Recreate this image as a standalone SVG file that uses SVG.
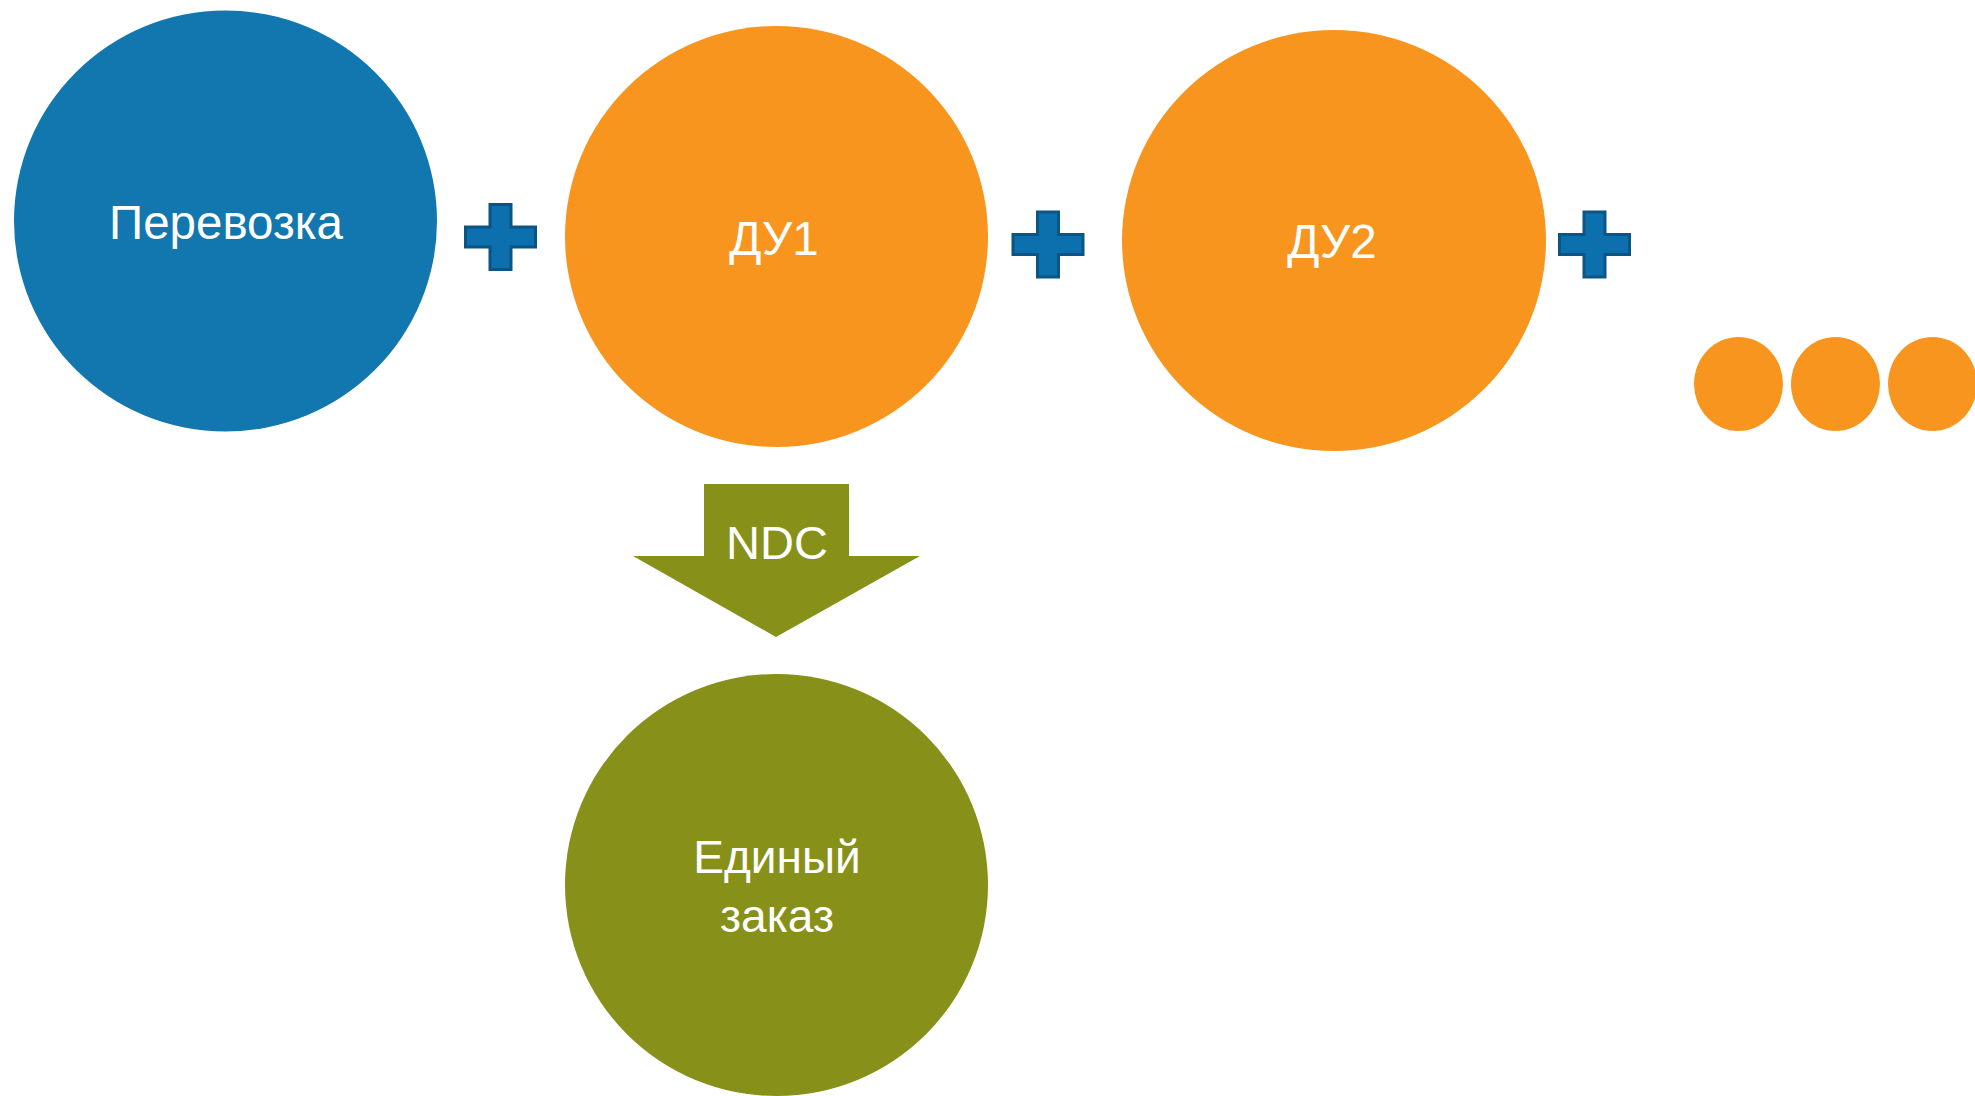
<svg xmlns="http://www.w3.org/2000/svg" xmlns:xlink="http://www.w3.org/1999/xlink" width="1975" height="1096" viewBox="0 0 1975 1096">
<style>
.lbl{font-family:"Liberation Sans",Arial,sans-serif;fill:#ffffff;text-anchor:middle}
.blue{fill:#1177ae}
.orange{fill:#f7951f}
.olive{fill:#87911a}
.plus{fill:#0b70ad;stroke:#0c5583;stroke-width:3}
</style>
<defs>
<path id="plus" d="M-10.5,-32.5 H10.5 V-10 H35 V10 H10.5 V32.5 H-10.5 V10 H-35 V-10 H-10.5 Z"/>
</defs>
<rect width="1975" height="1096" fill="#ffffff"/>
<g id="node-perevozka">
<ellipse class="blue" cx="225.5" cy="221" rx="211.5" ry="210.5"/>
<text class="lbl" x="226" y="239" font-size="47.5">Перевозка</text>
</g>
<g id="plus-1"><use xlink:href="#plus" class="plus" transform="translate(500.5,237)"/></g>
<g id="node-du1">
<ellipse class="orange" cx="776.5" cy="236.5" rx="211.5" ry="210.5"/>
<text class="lbl" x="774" y="255" font-size="47.5">ДУ1</text>
</g>
<g id="plus-2"><use xlink:href="#plus" class="plus" transform="translate(1048,244.5)"/></g>
<g id="node-du2">
<ellipse class="orange" cx="1334" cy="240.5" rx="212" ry="210.5"/>
<text class="lbl" x="1332" y="258" font-size="47.5">ДУ2</text>
</g>
<g id="plus-3"><use xlink:href="#plus" class="plus" transform="translate(1594.5,244.5)"/></g>
<g id="dots">
<ellipse class="orange" cx="1738.5" cy="384" rx="44.5" ry="47"/>
<ellipse class="orange" cx="1835.5" cy="384" rx="44.5" ry="47"/>
<ellipse class="orange" cx="1932.5" cy="384" rx="44.5" ry="47"/>
</g>
<g id="connectors">
<polygon class="olive" points="704,484 849,484 849,556 920,556 776,637 633,556 704,556"/>
<text class="lbl" x="777" y="559" font-size="47">NDC</text>
</g>
<g id="node-order">
<ellipse class="olive" cx="776.5" cy="885" rx="211.5" ry="211"/>
<text class="lbl" x="777" y="873" font-size="46">Единый</text>
<text class="lbl" x="777" y="932" font-size="46">заказ</text>
</g>
</svg>
